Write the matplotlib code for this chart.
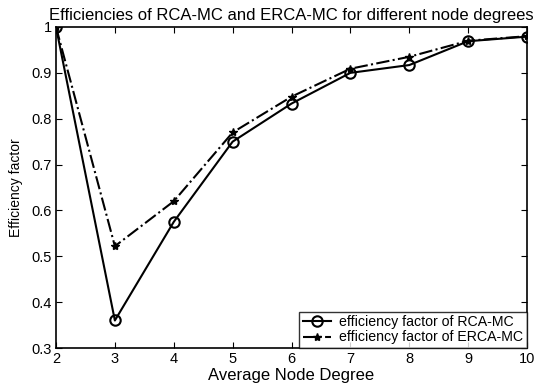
import matplotlib
matplotlib.use("Agg")
import matplotlib.pyplot as plt

degrees = [2, 3, 4, 5, 6, 7, 8, 9, 10]
rca_mc = [1.0, 0.36, 0.575, 0.75, 0.833, 0.90, 0.917, 0.969, 0.979]
erca_mc = [1.0, 0.522, 0.62, 0.77, 0.848, 0.909, 0.935, 0.970, 0.980]
yticks = [0.3, 0.4, 0.5, 0.6, 0.7, 0.8, 0.9, 1.0]
ytick_labels = ["0.3", "0.4", "0.5", "0.6", "0.7", "0.8", "0.9", "1"]

plt.rcParams['font.family'] = ['Liberation Sans', 'DejaVu Sans']

fig = plt.figure(figsize=(5.37, 3.91), dpi=100)
ax = fig.add_axes([56/537, 43/391, 471/537, 321/391])

ax.plot(degrees, rca_mc, '-', color='black', lw=1.5, marker='o', mfc='none',
        mec='black', ms=7.5, mew=1.5, label='efficiency factor of RCA-MC')
ax.plot(degrees, erca_mc, '-.', color='black', lw=1.5, marker='*', mfc='black',
        mec='black', ms=6, label='efficiency factor of ERCA-MC')

ax.set_xlim(2, 10)
ax.set_ylim(0.3, 1.0)
ax.set_xticks(degrees)
ax.set_yticks(yticks)
ax.set_yticklabels(ytick_labels)
ax.tick_params(direction='in', top=True, right=True, labelsize=10.5, length=4, pad=3)
for s in ax.spines.values():
    s.set_linewidth(1.2)

ax.set_xlabel('Average Node Degree', fontsize=12, labelpad=1)
ax.set_ylabel('Efficiency factor', fontsize=10, labelpad=6)
ax.set_title('Efficiencies of RCA-MC and ERCA-MC for different node degrees',
             fontsize=12, pad=5)

leg = ax.legend(loc='lower right', fontsize=10.2, frameon=True, fancybox=False,
                edgecolor='black', borderaxespad=0, handlelength=2.0,
                borderpad=0.25, labelspacing=0.1, handletextpad=0.6)
leg.get_frame().set_linewidth(1.0)

fig.savefig('out.png', dpi=100)
